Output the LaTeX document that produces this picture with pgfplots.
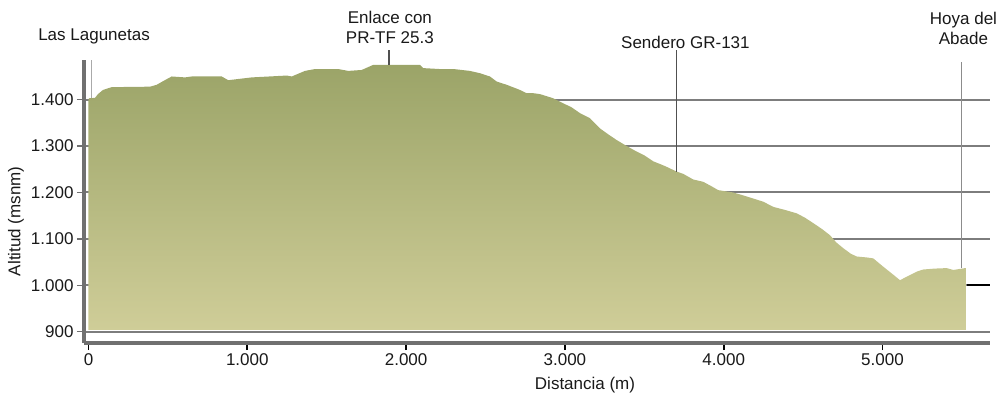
\documentclass[border=0pt]{standalone}
\usepackage{fontspec}
\setmainfont{Liberation Sans}
\usepackage{pgfplots}
\pgfplotsset{compat=1.18}
\definecolor{axisgray}{RGB}{112,112,112}
\definecolor{gridgray}{RGB}{125,125,125}
\definecolor{topgreen}{RGB}{155,164,104}
\definecolor{botgreen}{RGB}{207,205,152}
\definecolor{txt}{RGB}{25,25,25}
\newcommand{\lf}{\fontsize{17bp}{20bp}\selectfont}
\begin{document}
\begin{tikzpicture}
\path[use as bounding box] (-84bp,-58bp) rectangle (918bp,343bp);
\begin{axis}[
  at={(0,0)}, anchor=south west,
  scale only axis, width=906bp, height=283bp,
  xmin=-28.3, xmax=5677, ymin=875.6, ymax=1485.5,
  axis x line=bottom, axis y line=left,
  axis line style={-, axisgray, line width=3.5bp},
  xtick={0,1000,...,5000}, ytick={900,1000,...,1400},
  tick align=outside, major tick length=7bp,
  tick style={axisgray, line width=1.5bp},
  xtick style={black, line width=1.8bp},
  ymajorgrids, grid style={gridgray, line width=2bp},
  scaled ticks=false,
  /pgf/number format/.cd, 1000 sep={.}, assume math mode=true, /pgfplots/.cd,
  tick label style={font=\lf, text=txt},
  label style={font=\lf, text=txt},
  xlabel={Distancia (m)}, ylabel={Altitud (msnm)},
  xlabel style={at={(axis description cs:0.553,-0.148)}, anchor=center},
  ylabel style={at={(axis description cs:-0.075,0.43)}, anchor=center},
  clip mode=individual,
]
\addplot[draw=none, top color=topgreen, bottom color=botgreen] coordinates {
(0,904) (0,1400) (3,1403) (41,1404) (60,1412) (91,1421) (146,1427) (387,1428) (429,1432)
(470,1440) (524,1450) (608,1448) (650,1450) (839,1450) (880,1442) (1028,1448) (1249,1452)
(1280,1450) (1363,1462) (1426,1466) (1489,1466) (1573,1466) (1636,1462) (1720,1464)
(1760,1470) (1793,1475) (2088,1475) (2108,1468) (2213,1466) (2300,1466) (2402,1462) (2465,1457) (2528,1450)
(2571,1439) (2634,1432) (2717,1421) (2759,1414) (2800,1414) (2843,1412) (2927,1403) (2990,1392)
(3040,1384) (3095,1371) (3158,1360) (3221,1338) (3270,1326) (3326,1313) (3380,1302) (3431,1292) (3500,1280) (3557,1267)
(3630,1257) (3704,1245)
(3746,1240) (3808,1228) (3871,1223) (3920,1214) (3966,1205) (4060,1200) (4120,1194) (4186,1187) (4250,1180) (4312,1169)
(4390,1162) (4460,1155) (4510,1146) (4564,1134) (4620,1121) (4669,1108) (4710,1092) (4753,1080) (4800,1068) (4838,1062) (4900,1060) (4942,1058) (5005,1040)
(5060,1025) (5110,1011) (5173,1022) (5220,1030) (5257,1034) (5330,1036) (5404,1037) (5446,1033) (5520,1037) (5526,1037)
(5526,904)
};
\draw[black, line width=2bp] (axis cs:5530,1000) -- (axis cs:5677,1000);
\draw[color={rgb,255:red,170;green,170;blue,170}, line width=1bp] (axis cs:18,1404) -- (axis cs:18,1485);
\draw[color={rgb,255:red,80;green,80;blue,80}, line width=1.5bp] (axis cs:1892,1475) -- (axis cs:1892,1507);
\draw[color={rgb,255:red,80;green,80;blue,80}, line width=1.5bp] (axis cs:3704,1245) -- (axis cs:3704,1507);
\draw[color={rgb,255:red,140;green,140;blue,140}, line width=1.5bp] (axis cs:5499,1037) -- (axis cs:5499,1481);
\node[font=\lf, text=txt] at (axis cs:35,1536) {Las Lagunetas};
\node[font=\lf, text=txt, align=center] at (axis cs:1898,1556) {Enlace con\\PR-TF 25.3};
\node[font=\lf, text=txt] at (axis cs:3759,1524) {Sendero GR-131};
\node[font=\lf, text=txt, align=center] at (axis cs:5510,1553) {Hoya del\\Abade};
\end{axis}
\end{tikzpicture}
\end{document}
